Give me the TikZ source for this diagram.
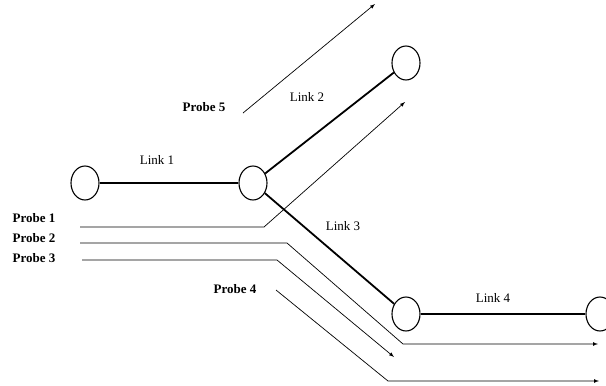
\documentclass[tikz,border=0pt]{standalone}
\usepackage{fontspec}
\setmainfont{Liberation Serif}
\usepackage{xcolor}
\usetikzlibrary{positioning,shapes.geometric}

\begin{document}
\begin{tikzpicture}[x=1pt,y=-1pt,
		router/.style={ellipse, draw, line width=1.1pt, minimum width=28pt, minimum height=34pt, inner sep=0pt},
		link/.style={line width=1.8pt},
		probe/.style={line width=0.7pt, -latex},
		lbl/.style={font=\fontsize{13}{15}\selectfont, inner sep=0pt},
		plbl/.style={font=\fontsize{13}{15}\selectfont\bfseries, inner sep=0pt}]
		\useasboundingbox (0,0) rectangle (606,386);
		% Nodes
		\node [router] (r1) at (85,183) {};
		\node [router] (r2) at (253,183) {};
		\node [router] (r3) at (406,63) {};
		\node [router] (r4) at (406,314) {};
		\node [router] (r5) at (600,314) {};
		
		% Link labels
		\node [lbl] (l1) at (157,160) {Link 1};
		\node [lbl] (l2) at (307,97) {Link 2};
		\node [lbl] (l3) at (343,226) {Link 3};
		\node [lbl] (l4) at (493,298) {Link 4};
		
		% Probe labels
		\node [plbl] (pr1) at (34,218) {Probe 1};
		\node [plbl] (pr2) at (34,238) {Probe 2};
		\node [plbl] (pr3) at (34,258) {Probe 3};
		\node [plbl] (pr4) at (235,289) {Probe 4};
		\node [plbl] (pr5) at (204,107) {Probe 5};
		
		% Probe paths
		\coordinate (p1a) at (80,227);
		\coordinate (p1b) at (264,227);
		\coordinate (p1c) at (405,102);
		\coordinate (p2a) at (80,243);
		\coordinate (p2b) at (287,243);
		\coordinate (p2c) at (403,344);
		\coordinate (p2d) at (598,344);
		\coordinate (p3a) at (82,260);
		\coordinate (p3b) at (277,260);
		\coordinate (p3c) at (394,357);
		\coordinate (p4a) at (276,290);
		\coordinate (p4b) at (388,381);
		\coordinate (p4c) at (599,381);
		\coordinate (p5a) at (243,113);
		\coordinate (p5b) at (375,4);
		
		% Links
		\draw [link] (r1) -- (r2);
		\draw [link] (r2) -- (r3);
		\draw [link] (r2) -- (r4);
		\draw [link] (r4) -- (r5);
		
		% Arrows
		\draw [probe] (p1a) -- (p1b) -- (p1c);
		\draw [probe] (p2a) -- (p2b) -- (p2c) -- (p2d);
		\draw [probe] (p3a) -- (p3b) -- (p3c);
		\draw [probe] (p4a) -- (p4b) -- (p4c);
		\draw [probe] (p5a) -- (p5b);
	\end{tikzpicture}
\end{document}
